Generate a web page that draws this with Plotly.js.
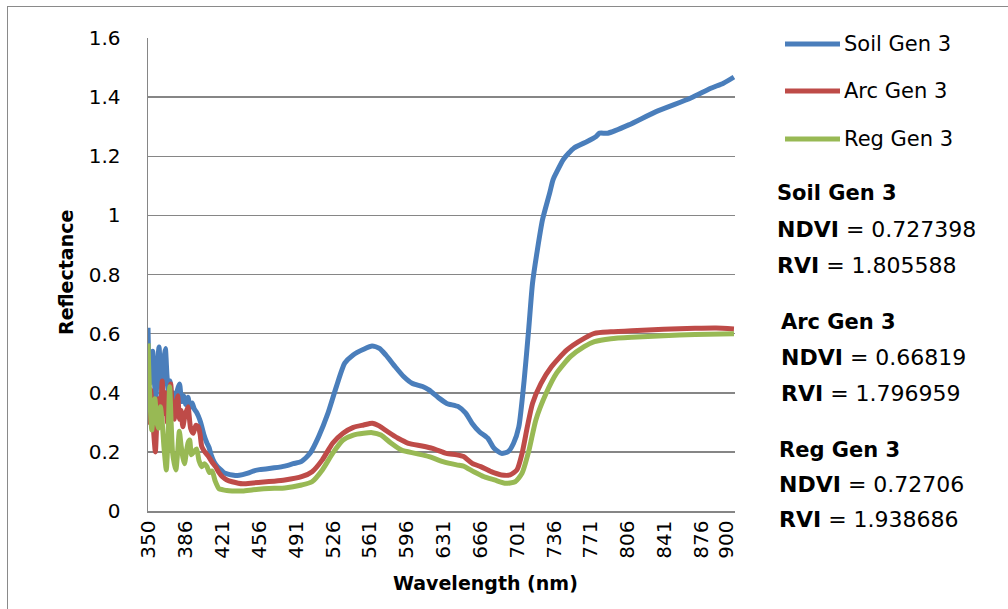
<!DOCTYPE html>
<html>
<head>
<meta charset="utf-8">
<script src="https://cdn.plot.ly/plotly-3.0.1.min.js"></script>
<style>
  html, body { margin:0; padding:0; background:#fff; overflow:hidden; }
  #wrap { position:relative; width:1008px; height:609px; }
  #chart { position:absolute; left:0; top:0; width:1008px; height:609px; }
  #frame { position:absolute; left:7px; top:6px; width:1010px; height:610px;
           border-left:1.5px solid #8a8a8a; border-top:1.5px solid #8a8a8a; pointer-events:none; }
</style>
</head>
<body>
<div id="wrap"><div id="chart"></div><div id="frame"></div></div>
<script>
// ---- Data ----
const seriesNames = ["Soil Gen 3", "Arc Gen 3", "Reg Gen 3"];

const soilWl = [350,351.5,353,354.5,356,357.5,359,360.5,362,363.5,365,366.5,368,369.5,371,372.5,374,376,378,380,382,384,386,388,390,392,394,396,398,400,403,406,408,410,413,416,419,422,426,430,435,440,445,450,456,462,470,480,488,496,504,512,521,529,537,545,555,563,570,576,585,593,601,611,617,627,634,645,652,658,665,673,679,686,692.5,697.5,702.5,707.5,712,715.5,720,725,731.8,735,738,745,755,767.5,776,779.3,787,807,833,866,885,897,907];
const soil   = [0.62,0.43,0.48,0.54,0.44,0.38,0.49,0.555,0.45,0.40,0.51,0.55,0.46,0.40,0.44,0.37,0.40,0.36,0.41,0.43,0.37,0.39,0.36,0.385,0.35,0.365,0.345,0.335,0.32,0.30,0.26,0.23,0.215,0.19,0.165,0.15,0.14,0.13,0.125,0.122,0.12,0.123,0.128,0.135,0.14,0.142,0.146,0.152,0.16,0.168,0.195,0.25,0.33,0.42,0.50,0.528,0.547,0.558,0.55,0.528,0.488,0.455,0.432,0.421,0.41,0.381,0.364,0.353,0.331,0.297,0.268,0.246,0.212,0.195,0.201,0.229,0.285,0.44,0.62,0.77,0.88,0.985,1.075,1.12,1.143,1.19,1.228,1.25,1.267,1.278,1.278,1.306,1.351,1.397,1.43,1.447,1.468];

const arcWl = [350,351,352.5,354,355.5,357,358.5,360,361.5,363.5,365,366.5,368.4,370,371.6,373.2,374.9,376.5,378.2,380,381.5,383.1,385,388,390.5,393,395.5,397.8,399.5,401.1,404,407.6,411,414.2,417.5,420.7,425,430,440,450,460,470,480,496,506,515.7,525.5,535.4,545.2,555,563.2,569.7,577.9,587.7,597.5,610.6,620.4,633.6,643.4,650,658.2,666.3,676.2,686,694.2,700.7,705.6,710.6,715.5,723.6,733.5,748.2,764.6,774.4,790,810,840,870,890,907];
const arc   = [0.47,0.30,0.41,0.34,0.26,0.20,0.31,0.38,0.29,0.44,0.33,0.40,0.30,0.36,0.43,0.34,0.31,0.36,0.39,0.31,0.34,0.285,0.32,0.353,0.28,0.263,0.29,0.285,0.26,0.218,0.20,0.184,0.165,0.15,0.13,0.116,0.105,0.099,0.092,0.095,0.098,0.101,0.105,0.116,0.133,0.173,0.229,0.263,0.283,0.291,0.297,0.288,0.268,0.246,0.229,0.22,0.212,0.195,0.19,0.184,0.161,0.15,0.133,0.122,0.122,0.139,0.195,0.285,0.364,0.432,0.488,0.545,0.584,0.601,0.606,0.61,0.615,0.618,0.619,0.616];

const regWl = [350,351.5,353.6,355,356.5,358.5,360,361.8,363.5,365.1,367.4,369,370.6,372,373.3,375,376.5,378.2,379.8,381.5,383.2,384.7,386.5,388,389.6,391.3,393.5,396.2,398.5,401.1,403.5,406,408.5,410.9,414,417.5,421,425,430,440,450,460,470,480,496.1,505.9,515.7,525.5,535.4,545.2,555,563.2,571.4,581.2,591,604.1,617.2,630.3,643.4,649.9,659.7,669.5,679.4,689.2,699,705.6,712.2,718.7,728.5,738.4,751.5,764.6,774.4,790,810,840,870,907];
const reg   = [0.567,0.40,0.274,0.33,0.38,0.30,0.28,0.353,0.30,0.22,0.139,0.25,0.42,0.30,0.20,0.16,0.139,0.20,0.27,0.22,0.18,0.16,0.20,0.23,0.24,0.19,0.20,0.21,0.17,0.15,0.16,0.15,0.13,0.135,0.10,0.075,0.072,0.069,0.068,0.068,0.072,0.075,0.077,0.078,0.088,0.099,0.139,0.195,0.24,0.257,0.263,0.265,0.257,0.229,0.206,0.195,0.184,0.167,0.156,0.152,0.133,0.116,0.105,0.094,0.099,0.128,0.206,0.308,0.398,0.466,0.522,0.556,0.573,0.583,0.588,0.593,0.597,0.60];

const xTicks = [350,386,421,456,491,526,561,596,631,666,701,736,771,806,841,876,900];
const xTickText = ["350","386","421","456","491","526","561","596","631","666","701","736","771","806","841","876","900"];

const indexTitles = ["Soil Gen 3", "Arc Gen 3", "Reg Gen 3"];
const ndviValues = ["0.727398", "0.66819", "0.72706"];
const rviValues  = ["1.805588", "1.796959", "1.938686"];

// ---- Styling / layout ----
const colors = ["#4a7ebb", "#be4b48", "#98b954"];
const FONT = "DejaVu Sans";
const W = 1008, H = 609;
const M = {l:148, r:273, t:38, b:98};
const PW = W - M.l - M.r, PH = H - M.t - M.b;
const px2x = p => (p - M.l) / PW;
const py2y = p => (H - M.b - p) / PH;

const xs = [soilWl, arcWl, regWl];
const ys = [soil, arc, reg];
const traces = seriesNames.map((n, i) => ({
  type: "scatter", mode: "lines", name: n,
  x: xs[i], y: ys[i],
  line: {color: colors[i], width: 5, shape: "spline", smoothing: 0.6},
  showlegend: false, hoverinfo: "skip"
}));

const shapes = [];
const annotations = [];
const legendY = [44, 91, 139];
seriesNames.forEach((n, i) => {
  shapes.push({type: "line", xref: "paper", yref: "paper",
    x0: px2x(785), x1: px2x(840), y0: py2y(legendY[i]), y1: py2y(legendY[i]),
    line: {color: colors[i], width: 5}});
  annotations.push({xref: "paper", yref: "paper", x: px2x(842), y: py2y(legendY[i]),
    xanchor: "left", yanchor: "middle", showarrow: false, text: n,
    font: {family: FONT, size: 21, color: "#000"}});
});

const blockX = [775, 779, 777];
const blockY = [[193, 229, 265], [322, 357, 393], [450, 484, 519]];
indexTitles.forEach((t, i) => {
  const lines = ["<b>" + t + "</b>", "<b>NDVI</b> = " + ndviValues[i], "<b>RVI</b> = " + rviValues[i]];
  lines.forEach((txt, j) => {
    annotations.push({xref: "paper", yref: "paper", x: px2x(blockX[i]), y: py2y(blockY[i][j]),
      xanchor: "left", yanchor: "middle", showarrow: false, text: txt,
      font: {family: FONT, size: j === 0 ? 21 : 22, color: "#000"}});
  });
});

annotations.push({xref: "paper", yref: "paper", x: px2x(485), y: py2y(583),
  xanchor: "center", yanchor: "middle", showarrow: false, text: "<b>Wavelength (nm)</b>",
  font: {family: FONT, size: 19, color: "#000"}});
annotations.push({xref: "paper", yref: "paper", x: px2x(66), y: py2y(273),
  xanchor: "center", yanchor: "middle", showarrow: false, textangle: -90, text: "<b>Reflectance</b>",
  font: {family: FONT, size: 19, color: "#000"}});

const layout = {
  width: W, height: H,
  margin: {l: M.l, r: M.r, t: M.t, b: M.b, pad: 0},
  paper_bgcolor: "rgba(0,0,0,0)", plot_bgcolor: "#fff",
  showlegend: false,
  xaxis: {
    type: "linear", range: [350, 908],
    tickmode: "array", tickvals: xTicks, ticktext: xTickText, tickangle: -90,
    showgrid: false, zeroline: false, showline: true, linecolor: "#868686", linewidth: 1.5,
    ticks: "", tickfont: {family: FONT, size: 20, color: "#000"}
  },
  yaxis: {
    range: [0, 1.6], tick0: 0, dtick: 0.2,
    showgrid: true, gridcolor: "#868686", gridwidth: 1.5,
    zeroline: false, showline: true, linecolor: "#868686", linewidth: 1.5,
    ticks: "", ticklabelstandoff: 22,
    tickfont: {family: FONT, size: 20, color: "#000"}
  },
  shapes: shapes,
  annotations: annotations
};

Plotly.newPlot("chart", traces, layout, {staticPlot: true, displayModeBar: false});
</script>
</body>
</html>
